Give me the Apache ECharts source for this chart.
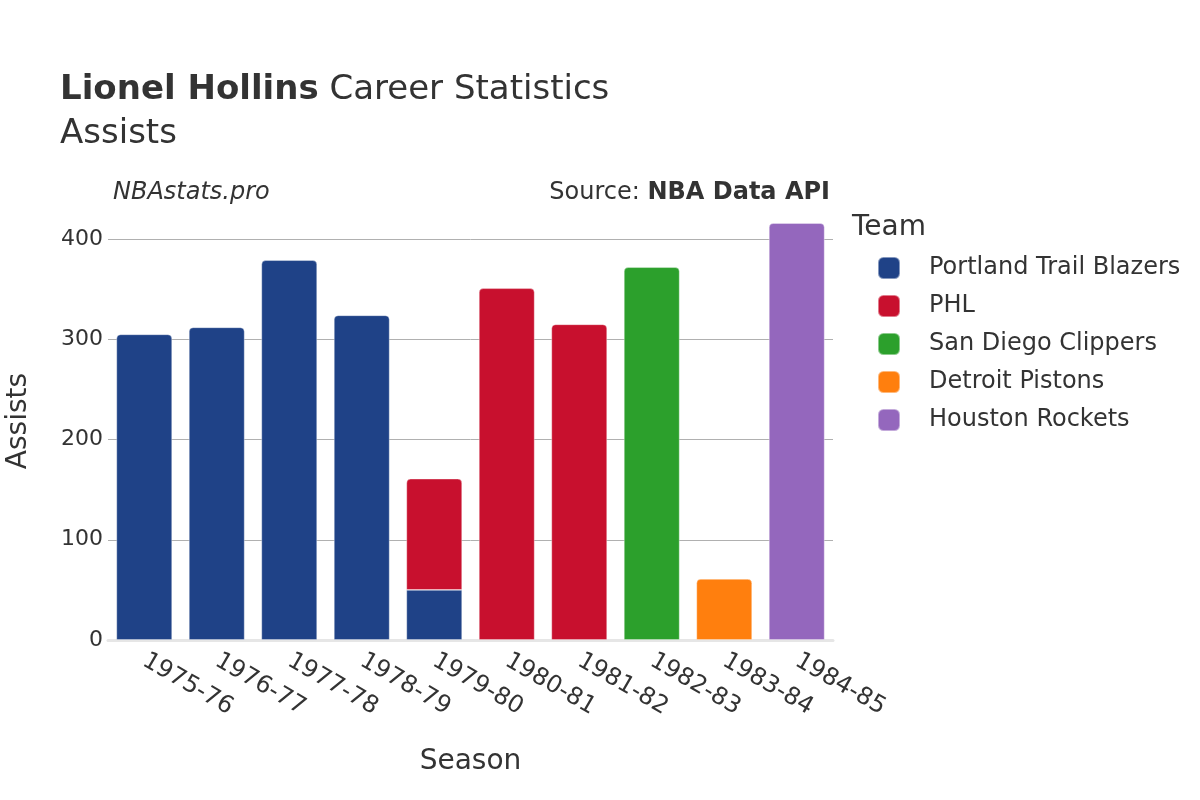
<!DOCTYPE html>
<html>
<head>
<meta charset="utf-8">
<script src="https://cdn.jsdelivr.net/npm/echarts@6/dist/echarts.min.js"></script>
<style>
html,body{margin:0;padding:0;background:#fff;}
#chart{width:1200px;height:800px;}
</style>
</head>
<body>
<div id="chart"></div>
<script>
const seasons = ['1975-76','1976-77','1977-78','1978-79','1979-80','1980-81','1981-82','1982-83','1983-84','1984-85'];
const teams = ['Portland Trail Blazers','PHL','San Diego Clippers','Detroit Pistons','Houston Rockets'];
const teamColors = ['#1f4287','#c8102e','#2ca02c','#ff7f0e','#9467bd'];
const portland = [305, 312, 379, 324, 50, null, null, null, null, null];
const phl = [null, null, null, null, 111, 351, 315, null, null, null];
const clippers = [null, null, null, null, null, null, null, 372, null, null];
const pistons = [null, null, null, null, null, null, null, null, 61, null];
const rockets = [null, null, null, null, null, null, null, null, null, 416];
const yTicks = [0, 100, 200, 300, 400];

const seriesValues = [portland, phl, clippers, pistons, rockets];
const FONT = 'DejaVu Sans';

const series = seriesValues.map((vals, si) => ({
  name: teams[si],
  type: 'bar',
  stack: 'total',
  barCategoryGap: '23%',
  itemStyle: { color: teamColors[si], borderColor: 'rgba(255,255,255,0.45)', borderWidth: 0.8 },
  data: vals.map((v, i) => {
    if (v === null) return '-';
    let hasAbove = false;
    for (let k = si + 1; k < seriesValues.length; k++) if (seriesValues[k][i] !== null) hasAbove = true;
    return { value: v, itemStyle: { borderRadius: hasAbove ? 0 : [4, 4, 0, 0] } };
  })
}));

const chart = echarts.init(document.getElementById('chart'));
chart.setOption({
  backgroundColor: '#ffffff',
  animation: false,
  textStyle: { fontFamily: FONT, color: '#333' },
  title: [{
    left: 60, top: 73, padding: 0,
    text: '{b|Lionel Hollins} Career Statistics',
    textStyle: { fontFamily: FONT, fontSize: 34, color: '#333', fontWeight: 'normal',
      rich: { b: { fontFamily: FONT, fontSize: 34, fontWeight: 'bold', color: '#333' } } }
  }, {
    left: 60, top: 117, padding: 0,
    text: 'Assists',
    textStyle: { fontFamily: FONT, fontSize: 34, color: '#333', fontWeight: 'normal' }
  }, {
    left: 113, top: 181, padding: 0,
    text: 'NBAstats.pro',
    textStyle: { fontFamily: FONT, fontSize: 24, color: '#333', fontWeight: 'normal', fontStyle: 'italic' }
  }, {
    right: 370, top: 181, padding: 0,
    text: 'Source: {b|NBA Data API}',
    textStyle: { fontFamily: FONT, fontSize: 24, color: '#333', fontWeight: 'normal',
      rich: { b: { fontFamily: FONT, fontSize: 24, fontWeight: 'bold', color: '#333' } } }
  }, {
    left: 852, top: 214, padding: 0,
    text: 'Team',
    textStyle: { fontFamily: FONT, fontSize: 28, color: '#333', fontWeight: 'normal' }
  }],
  legend: {
    orient: 'vertical',
    left: 877, top: 256, padding: 0,
    itemWidth: 22, itemHeight: 22, itemGap: 14,
    icon: 'roundRect',
    data: teams,
    textStyle: { fontFamily: FONT, fontSize: 24, color: '#333', padding: [0, 0, 0, 24] }
  },
  grid: { left: 108, right: 367, top: 202, bottom: 160, containLabel: false, outerBoundsMode: 'none' },
  xAxis: {
    type: 'category',
    data: seasons,
    name: 'Season',
    nameLocation: 'middle',
    nameGap: 108,
    nameTextStyle: { fontFamily: FONT, fontSize: 28, color: '#333' },
    axisLine: { show: true, lineStyle: { color: '#e6e6e6', width: 3 } },
    axisTick: { show: false },
    axisLabel: { rotate: -30, fontSize: 24, color: '#333', fontFamily: FONT, margin: 19, interval: 0 }
  },
  yAxis: {
    type: 'value',
    min: 0, max: 437, interval: 100,
    name: 'Assists',
    nameLocation: 'middle',
    nameGap: 75,
    nameTextStyle: { fontFamily: FONT, fontSize: 28, color: '#333' },
    axisLine: { show: false },
    axisTick: { show: false },
    axisLabel: { fontSize: 22, color: '#333', fontFamily: FONT, margin: 5,
      formatter: v => (yTicks.indexOf(v) >= 0 ? String(v) : '') },
    splitLine: { show: true, lineStyle: { color: ['#b0b0b0','#b0b0b0','#b0b0b0','#b0b0b0','#b0b0b0','rgba(0,0,0,0)'], width: 1 } }
  },
  series: series
});
</script>
</body>
</html>
